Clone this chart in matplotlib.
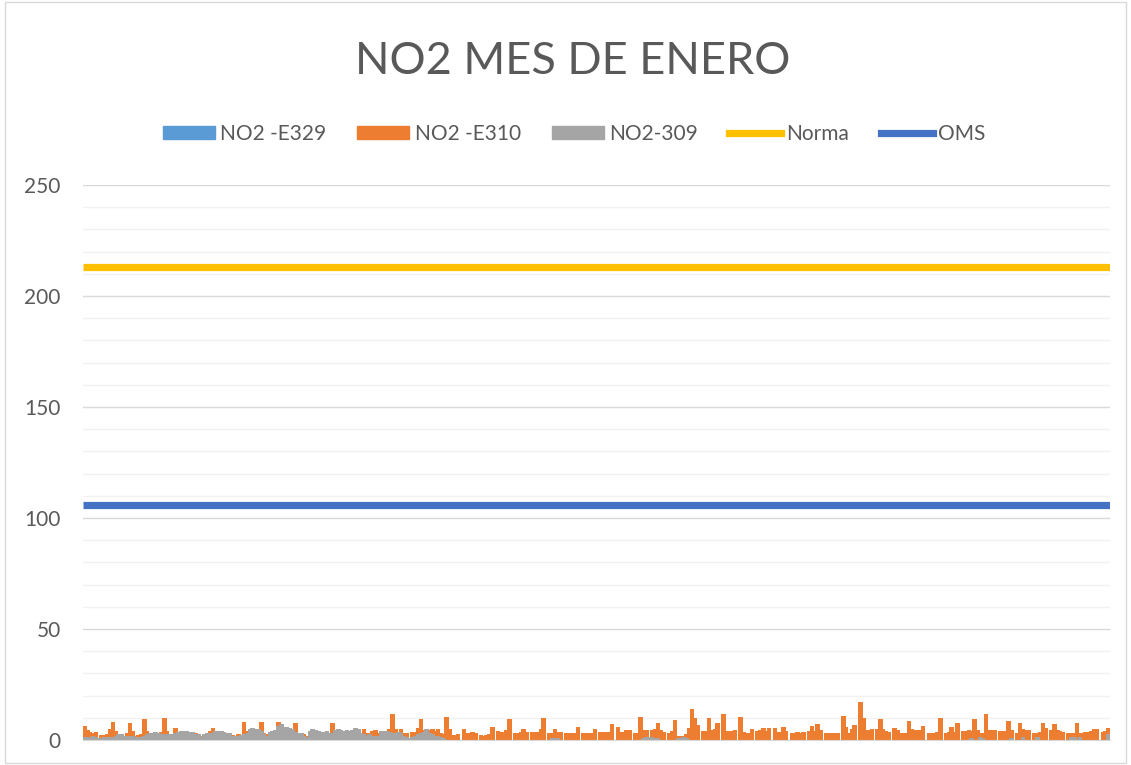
import matplotlib.pyplot as plt
from matplotlib.patches import Patch, Rectangle
from matplotlib.lines import Line2D

title = "NO2 MES DE ENERO"
labels = ["NO2 -E329", "NO2 -E310", "NO2-309", "Norma", "OMS"]

# station E329 has no values shown in the chart
e329 = []

e310 = [
    6.5, 4.5, 3.5, 3, 3.5, 0, 2.2, 2.2, 2.5, 5, 8, 4, 1.5, 1.5, 2, 3, 7.5, 4, 2, 2.2,
    2.5, 9.5, 4, 2, 1.5, 1.5, 1.5, 3.5, 10, 4, 1.5, 1.5, 5.5, 2, 2, 1.5, 1.5, 2, 2, 3,
    2, 2, 1.5, 1.5, 4, 5.5, 2, 1.5, 1.5, 2, 1.5, 1.5, 2.2, 2, 2.5, 2, 8, 4, 2, 2,
    2, 2, 8, 3, 2.5, 2, 2, 2, 8, 3, 3, 3, 2.5, 2.5, 7.5, 3, 3, 2.5, 2, 2.5,
    2, 2, 2, 2, 2, 2, 2, 7.5, 2.5, 5, 2.5, 2, 2, 2, 2, 2.5, 2.5, 3, 5, 3,
    3, 4, 4.5, 3, 1, 1.5, 1.5, 5, 11.5, 5, 2, 5, 3, 3, 0, 3.5, 3.5, 5.5, 9.5, 4.5,
    2, 4.5, 5, 4, 5, 3, 2.5, 10.5, 5, 2.2, 2.2, 2.5, 0, 5, 3, 3, 3.5, 3, 0, 2.2,
    2, 2.2, 2.5, 6, 0, 4, 3.5, 3.5, 4.5, 9.5, 0, 3, 3, 3.5, 5, 3.5, 0, 3.5, 3.5, 3.5,
    5, 9.8, 0, 3, 3, 5, 3.5, 3.5, 0, 3, 3, 3, 3, 5.7, 0, 3, 3, 3, 3.2, 5,
    0, 3.5, 3.5, 3.5, 3.8, 7, 0, 6, 3.7, 3.7, 4.5, 4.5, 0, 3, 3, 10.4, 4.5, 4.5, 0, 4.5,
    5, 7.5, 4.5, 3.5, 0, 3, 4, 9, 2, 2, 2, 2.5, 5.5, 14, 10, 6.7, 0, 4, 4, 9.8,
    4.5, 5, 7.5, 0, 11.5, 4, 4, 4, 4.5, 0, 10.5, 3.5, 3, 3, 5, 0, 4, 4.5, 5.5, 4,
    5.3, 0, 5.5, 3.5, 3.8, 5.7, 4, 0, 3.3, 3.3, 3.5, 3.3, 3.5, 0, 4, 6.5, 4, 7, 4.5, 0,
    3, 3, 3, 3, 3, 0, 11, 6, 3, 5, 6.7, 0, 17.3, 10, 4.5, 4.5, 5, 0, 5, 9.5,
    5, 4, 3.7, 0, 5.5, 4.5, 3, 3, 3, 8.5, 5, 4.5, 4.5, 4.5, 6.5, 0, 3, 3, 3, 3.5,
    9.8, 0, 3, 3.5, 6, 3.5, 7.5, 0, 4, 4, 4.5, 4, 9.5, 4.5, 3, 3, 11.5, 4.5, 4.5, 4.5,
    0, 4, 4, 4, 8.5, 4.5, 0, 3, 7.5, 5, 4.5, 4.5, 0, 3, 3, 3.5, 7.5, 5.5, 0, 4.5,
    7, 4.5, 4, 3.5, 0, 3, 3, 3, 7.5, 3, 3, 3.5, 3.7, 4, 5, 5, 0, 3.7, 4, 5.5,
]

s309 = [
    1.5, 1.5, 1.5, 2, 1.5, 1, 1, 1.5, 1.5, 1.5, 1.5, 2, 2.5, 2.5, 2, 2, 2, 2, 1.5, 1.5,
    1.5, 2, 2.5, 3, 3, 3.5, 3, 2.5, 2.5, 2.5, 2.5, 2.5, 3, 3.5, 4, 4, 4, 3.5, 3.5, 2.5,
    2.5, 1.5, 2.5, 3, 3, 3, 4, 4, 4, 3.5, 3, 3, 2, 2, 2, 2.2, 2.5, 3, 5, 5.5,
    5, 5, 4, 2.5, 2, 3.5, 4, 4.5, 6.5, 7, 6, 6, 5.5, 5, 3.5, 3, 3, 2, 1.5, 4,
    5, 4.5, 4, 3.5, 3.8, 4, 3, 3, 4.5, 5, 4.5, 4, 4.5, 4, 4.5, 5.5, 5, 3, 2.5, 2,
    2.5, 2, 2, 2, 4, 4, 4, 3.5, 3, 3, 3.5, 3, 2, 1.5, 1, 1.5, 2, 2.5, 3, 3.5,
    5, 3, 2.5, 2, 2, 1.5, 1, 0, 0, 0, 0, 0, 0, 0, 0, 0, 0, 0, 0, 0,
    0, 0, 0, 0, 0, 0, 0, 0, 0, 0, 0, 0, 0, 0, 0, 0, 0, 0, 0, 0,
    0, 0, 0, 0, 1, 1, 1, 0, 0, 0, 0, 0, 0, 0, 0, 0, 0, 0, 0, 0,
    0, 0, 0, 0, 0, 0, 0, 0, 0, 0, 0, 0, 0, 0, 0, 0, 1, 1.5, 1.5, 1.5,
    1, 1, 0, 0, 0, 0, 0, 0, 1, 1, 1.5, 1, 0, 0, 0, 0, 0, 0, 0, 0,
    0, 0, 0, 0, 0, 0, 0, 0, 0, 0, 0, 0, 0, 0, 0, 0, 0, 0, 0, 0,
    0, 0, 0, 0, 0, 0, 0, 0, 0, 0, 0, 0, 0, 0, 0, 0, 0, 0, 0, 0,
    0, 0, 0, 0, 0, 0, 0, 0, 0, 0, 0, 0, 0, 0, 0, 0, 0, 0, 0, 0,
    0, 0, 0, 0, 0, 0, 0, 0, 0, 0, 0, 0, 0, 0, 0, 0, 0, 0, 0, 0,
    0, 0, 0, 0, 0, 0, 0, 0, 0, 0, 0, 1, 0, 0, 1.2, 1, 0, 0, 0, 0,
    0, 0, 0, 0, 0, 1, 0, 0, 0, 1.5, 0, 0, 0, 0, 1.5, 0, 0, 0, 0, 0,
    0, 0, 0, 0, 0, 0, 1.5, 1.5, 0, 1.5, 0, 0, 0, 0, 0, 0, 0, 0, 0, 2.5,
]

norma = 213
oms = 106
yticks = [0, 50, 100, 150, 200, 250]

colors = ["#5B9BD5", "#ED7D31", "#A5A5A5", "#FFC000", "#4472C4"]
txt = "#595959"

plt.rcParams["font.family"] = ["Lato", "DejaVu Sans"]

W, H = 1131, 765
fig = plt.figure(figsize=(W / 100, H / 100), dpi=100)
ax = fig.add_axes([83 / W, 25 / H, 1027 / W, 555 / H])

n = len(e310)
# bars a bit wider than the slot so the hourly columns merge like in Excel
bw = 1.6
ax.bar(range(len(e329)), e329, width=bw, color=colors[0], linewidth=0)
ax.bar(range(n), e310, width=bw, color=colors[1], linewidth=0)
ax.bar(range(len(s309)), s309, width=bw, color=colors[2], linewidth=0)

ax.axhline(norma, color=colors[3], lw=5.2, solid_capstyle="butt", zorder=3)
ax.axhline(oms, color=colors[4], lw=5.2, solid_capstyle="butt", zorder=3)

ax.set_xlim(-0.5, n - 0.5)
ax.set_ylim(0, 250)
ax.set_xticks([])
ax.set_yticks(yticks)
ax.set_yticks(range(0, 251, 10), minor=True)
ax.grid(which="major", axis="y", color="#d9d9d9", lw=1)
ax.grid(which="minor", axis="y", color="#f2f2f2", lw=1)
ax.set_axisbelow(True)
ax.tick_params(axis="y", which="both", length=0, labelsize=15, labelcolor=txt, pad=16)
for s in ["top", "right", "left"]:
    ax.spines[s].set_visible(False)
ax.spines["bottom"].set_color("#d9d9d9")

fig.text(573 / W, 1 - 62 / H, title, ha="center", va="center", fontsize=32.5,
         color=txt)

handles = [
    Patch(color=colors[0]),
    Patch(color=colors[1]),
    Patch(color=colors[2]),
    Line2D([], [], color=colors[3], lw=5.2),
    Line2D([], [], color=colors[4], lw=5.2),
]
fig.legend(handles, labels, loc="center", bbox_to_anchor=(574 / W, 1 - 134 / H),
           ncol=5, frameon=False, fontsize=15, handlelength=2.5, handleheight=0.55,
           handletextpad=0.25, columnspacing=1.5, labelcolor=txt)

# chart area border
fig.add_artist(Rectangle((5 / W, 2 / H), 1121 / W, 761 / H, transform=fig.transFigure,
                         fill=False, edgecolor="#d9d9d9", lw=1))

fig.savefig("out.png", dpi=100)
